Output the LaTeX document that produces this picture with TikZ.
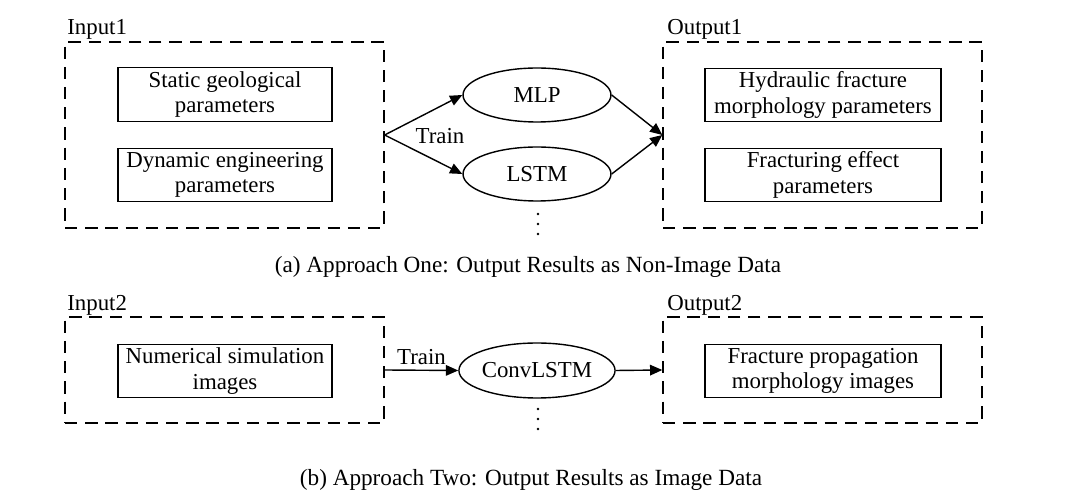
\documentclass[tikz,border=0pt]{standalone}
\usepackage{fontspec}
\setmainfont{Liberation Serif}
\usetikzlibrary{arrows.meta,positioning,shapes.geometric}

\begin{document}
\begin{tikzpicture} [
      x=0.02cm, y=-0.02cm,
      >={Triangle[length=7pt, width=6pt]},
      group/.style={draw, rectangle, line width=0.8pt, dash pattern=on 7pt off 4.5pt, minimum width=6.38cm},
      param/.style={draw, rectangle, line width=0.8pt, align=center, inner sep=0pt, minimum height=1.07cm},
      model/.style={draw, ellipse, line width=0.8pt, minimum width=2.96cm, minimum height=1.08cm, inner sep=0pt},
      tag/.style={anchor=base west, inner sep=0pt},
      caption/.style={font=\fontsize{13.2}{15}\selectfont},
      every node/.style={font=\fontsize{13}{14.5}\selectfont}
   ]
    \useasboundingbox (0, 0) rectangle (1080, 499);

    % approach one
    \node[group, minimum height=3.72cm] (ndInput1) at (224.5, 135) {};
    \node[group, minimum height=3.72cm] (ndOutput1) at (822.5, 135) {};
    \node[tag] (lblInput1) at (67, 35) {Input1};
    \node[tag] (lblOutput1) at (667, 35) {Output1};

    \node[param, minimum width=4.28cm] (ndStatic) at (225, 94.5) {Static geological\\parameters};
    \node[param, minimum width=4.28cm] (ndDynamic) at (225, 175) {Dynamic engineering\\parameters};
    \node[param, minimum width=4.72cm] (ndMorph) at (823, 95) {Hydraulic fracture\\morphology parameters};
    \node[param, minimum width=4.72cm] (ndEffect) at (823, 175) {Fracturing effect\\parameters};

    \node[model] (ndMLP) at (537, 95) {MLP};
    \node[model] (ndLSTM) at (537, 174) {LSTM};
    \foreach \d in {214, 224, 234}
      \fill (538, \d) circle (0.8pt);

    \draw[->, line width=0.8pt] (ndInput1.east) -- (ndMLP.west);
    \draw[->, line width=0.8pt] (ndInput1.east) -- (ndLSTM.west);
    \draw[->, line width=0.8pt] (ndMLP.east) -- (ndOutput1.west);
    \draw[->, line width=0.8pt] (ndLSTM.east) -- (ndOutput1.west);
    \node (lblTrain1) at (440, 136) {Train};

    \node[caption] (capA) at (528, 267) {(a) Approach One: Output Results as Non-Image Data};

    % approach two
    \node[group, minimum height=2.12cm] (ndInput2) at (224.5, 370) {};
    \node[group, minimum height=2.12cm] (ndOutput2) at (822.5, 370) {};
    \node[tag] (lblInput2) at (67, 311) {Input2};
    \node[tag] (lblOutput2) at (667, 311) {Output2};

    \node[param, minimum width=4.28cm] (ndNumerical) at (225, 371) {Numerical simulation\\images};
    \node[param, minimum width=4.72cm] (ndPropagation) at (823, 371) {Fracture propagation\\morphology images};

    \node[model, minimum height=1.1cm] (ndConvLSTM) at (537, 370.5) {ConvLSTM};
    \foreach \d in {409, 419, 429}
      \fill (538, \d) circle (0.8pt);

    \draw[->, line width=0.8pt] (ndInput2.east) -- node[above, inner sep=3pt]{Train} (ndConvLSTM.west);
    \draw[->, line width=0.8pt] (ndConvLSTM.east) -- (ndOutput2.west);

    \node[caption] (capB) at (531, 480) {(b) Approach Two: Output Results as Image Data};

  \end{tikzpicture}
\end{document}
